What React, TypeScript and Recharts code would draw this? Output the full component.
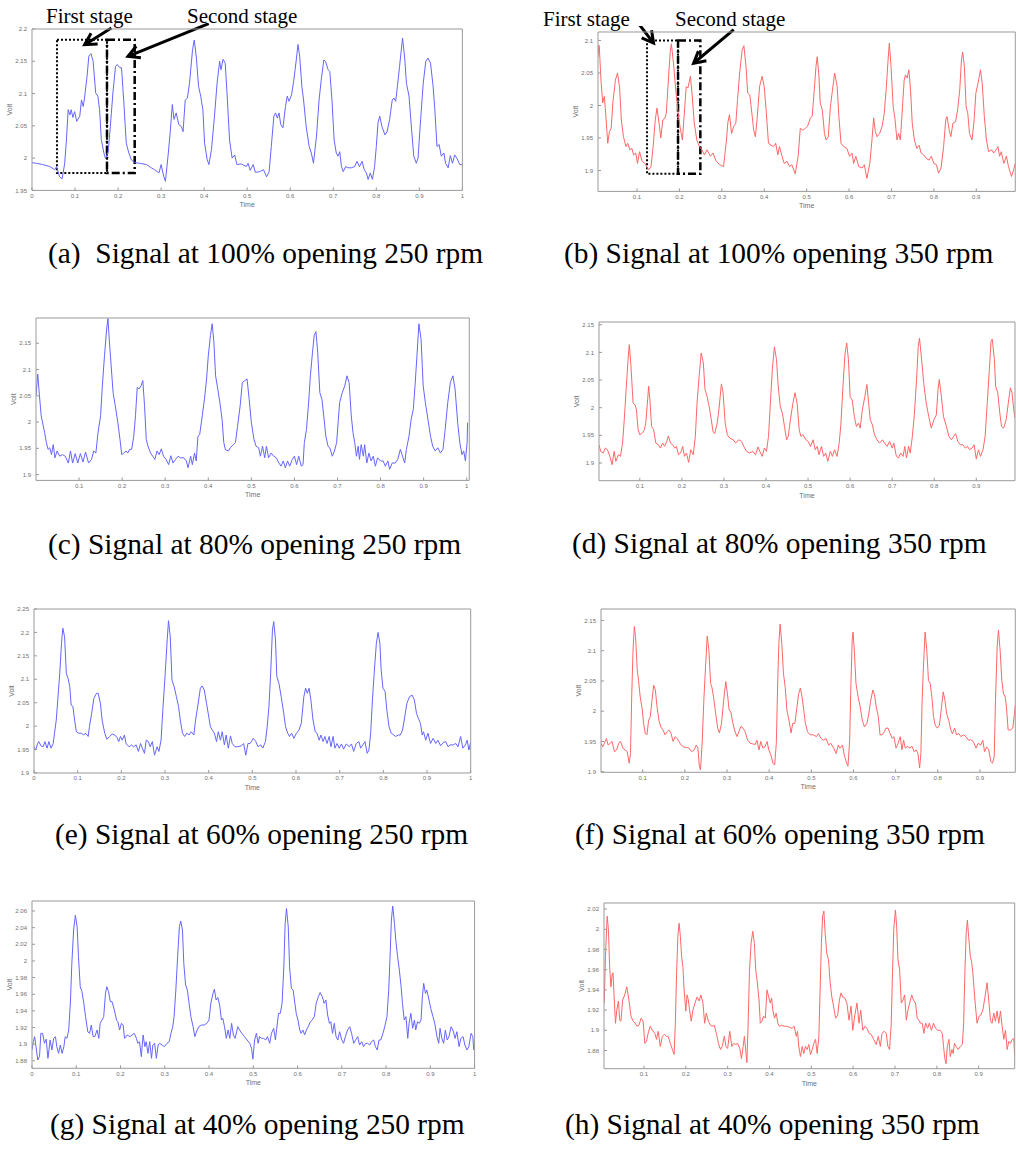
import React from 'react';
import { LineChart, Line, XAxis, YAxis, ReferenceArea, ReferenceLine } from 'recharts';

type Pt = [number, number];

// (a) 100% opening, 250 rpm
const sig100_250: Pt[] = [[0,1.993],[0.01,1.992],[0.025,1.99],[0.041,1.987],[0.053,1.982],[0.057,1.987],[0.064,1.971],[0.07,1.968],[0.076,1.992],[0.08,2.028],[0.084,2.075],[0.088,2.067],[0.091,2.075],[0.095,2.063],[0.099,2.072],[0.104,2.057],[0.111,2.065],[0.115,2.09],[0.119,2.08],[0.122,2.093],[0.128,2.127],[0.132,2.158],[0.137,2.162],[0.142,2.15],[0.148,2.101],[0.153,2.096],[0.157,2.075],[0.161,2.029],[0.167,2.008],[0.171,1.999],[0.177,2.01],[0.182,2.049],[0.188,2.101],[0.194,2.142],[0.198,2.145],[0.204,2.14],[0.208,2.14],[0.213,2.09],[0.219,2.023],[0.225,2.008],[0.231,1.997],[0.239,1.993],[0.25,1.992],[0.266,1.99],[0.277,1.985],[0.285,1.982],[0.295,1.977],[0.3,1.99],[0.306,1.972],[0.31,1.964],[0.316,2.003],[0.321,2.039],[0.326,2.083],[0.33,2.06],[0.335,2.07],[0.341,2.052],[0.347,2.049],[0.351,2.041],[0.356,2.09],[0.361,2.093],[0.366,2.116],[0.373,2.168],[0.377,2.183],[0.382,2.155],[0.387,2.111],[0.392,2.096],[0.397,2.075],[0.401,2.023],[0.407,1.998],[0.411,1.99],[0.417,2.013],[0.424,2.065],[0.43,2.116],[0.436,2.15],[0.439,2.137],[0.444,2.153],[0.449,2.147],[0.454,2.09],[0.459,2.028],[0.465,2.0],[0.471,2.005],[0.476,1.99],[0.486,1.991],[0.498,1.987],[0.502,1.992],[0.507,1.981],[0.514,1.99],[0.519,1.978],[0.529,1.979],[0.538,1.982],[0.545,1.971],[0.551,1.979],[0.556,2.018],[0.562,2.065],[0.566,2.07],[0.57,2.062],[0.574,2.07],[0.578,2.052],[0.583,2.047],[0.589,2.08],[0.593,2.096],[0.597,2.088],[0.603,2.098],[0.608,2.119],[0.614,2.152],[0.618,2.176],[0.622,2.158],[0.627,2.111],[0.631,2.09],[0.637,2.049],[0.644,2.018],[0.649,2.008],[0.654,1.992],[0.661,2.034],[0.667,2.09],[0.672,2.121],[0.678,2.152],[0.682,2.15],[0.688,2.137],[0.692,2.134],[0.697,2.09],[0.702,2.028],[0.707,2.008],[0.711,2.003],[0.715,2.01],[0.719,1.987],[0.723,1.979],[0.729,1.987],[0.734,1.985],[0.742,1.985],[0.75,1.987],[0.755,1.995],[0.761,1.987],[0.767,1.995],[0.772,1.982],[0.777,1.977],[0.781,1.967],[0.786,1.977],[0.791,1.967],[0.796,1.987],[0.8,2.018],[0.804,2.055],[0.808,2.065],[0.813,2.049],[0.82,2.036],[0.825,2.041],[0.831,2.06],[0.837,2.09],[0.841,2.093],[0.845,2.088],[0.849,2.111],[0.854,2.142],[0.861,2.186],[0.866,2.155],[0.87,2.116],[0.876,2.096],[0.882,2.044],[0.887,2.003],[0.893,1.992],[0.897,2.0],[0.903,2.06],[0.909,2.116],[0.915,2.15],[0.92,2.155],[0.926,2.147],[0.932,2.111],[0.936,2.075],[0.941,2.018],[0.946,2.021],[0.951,2.003],[0.957,2.008],[0.961,1.992],[0.967,1.985],[0.972,2.004],[0.977,1.992],[0.982,2.005],[0.987,2.0],[0.994,1.99],[1,1.99]];

// (b) 100% opening, 350 rpm
const sig100_350: Pt[] = [[0.008,2.075],[0.01,2.093],[0.011,2.091],[0.015,2.039],[0.019,2.004],[0.023,2.014],[0.026,1.988],[0.031,1.942],[0.035,1.96],[0.039,1.965],[0.043,2.004],[0.049,2.039],[0.054,2.05],[0.059,2.027],[0.063,1.978],[0.068,1.952],[0.074,1.937],[0.078,1.942],[0.083,1.932],[0.088,1.934],[0.092,1.924],[0.097,1.927],[0.101,1.911],[0.106,1.929],[0.112,1.914],[0.119,1.911],[0.127,1.901],[0.133,1.906],[0.138,1.937],[0.143,1.978],[0.147,1.996],[0.152,1.973],[0.156,1.95],[0.161,1.978],[0.166,1.981],[0.169,1.988],[0.173,2.029],[0.178,2.081],[0.181,2.095],[0.186,2.065],[0.192,2.019],[0.197,1.988],[0.202,1.965],[0.207,1.947],[0.211,1.983],[0.216,2.029],[0.22,2.027],[0.226,2.045],[0.23,2.016],[0.235,1.973],[0.241,1.947],[0.247,1.937],[0.253,1.932],[0.259,1.924],[0.265,1.932],[0.273,1.922],[0.279,1.927],[0.287,1.914],[0.295,1.909],[0.304,1.906],[0.311,1.947],[0.314,1.973],[0.318,1.986],[0.323,1.957],[0.328,1.968],[0.333,1.973],[0.337,2.009],[0.342,2.05],[0.348,2.086],[0.352,2.092],[0.357,2.06],[0.361,2.019],[0.366,2.016],[0.37,1.993],[0.375,1.963],[0.379,1.952],[0.383,1.978],[0.389,2.029],[0.395,2.045],[0.4,2.029],[0.405,1.988],[0.41,1.942],[0.416,1.939],[0.422,1.937],[0.427,1.942],[0.432,1.924],[0.436,1.937],[0.442,1.922],[0.447,1.911],[0.454,1.914],[0.46,1.906],[0.465,1.909],[0.473,1.895],[0.48,1.922],[0.485,1.965],[0.491,1.962],[0.497,1.965],[0.502,1.968],[0.509,1.981],[0.513,1.983],[0.518,2.024],[0.522,2.06],[0.525,2.075],[0.529,2.045],[0.532,2.004],[0.537,1.993],[0.542,1.957],[0.546,1.947],[0.551,1.952],[0.556,1.998],[0.561,2.024],[0.566,2.05],[0.572,2.029],[0.576,1.983],[0.581,1.942],[0.587,1.937],[0.595,1.934],[0.601,1.922],[0.607,1.927],[0.611,1.911],[0.616,1.922],[0.623,1.906],[0.631,1.904],[0.636,1.909],[0.642,1.888],[0.649,1.911],[0.654,1.947],[0.658,1.981],[0.662,1.96],[0.666,1.952],[0.672,1.957],[0.678,1.968],[0.683,1.988],[0.688,2.029],[0.692,2.07],[0.695,2.096],[0.699,2.06],[0.704,1.998],[0.708,1.981],[0.713,1.947],[0.717,1.957],[0.721,1.947],[0.726,1.998],[0.73,2.039],[0.733,2.047],[0.737,2.042],[0.741,2.055],[0.745,2.024],[0.749,1.973],[0.754,1.947],[0.76,1.934],[0.765,1.939],[0.77,1.927],[0.776,1.924],[0.782,1.919],[0.789,1.916],[0.794,1.922],[0.8,1.911],[0.806,1.909],[0.811,1.896],[0.817,1.904],[0.823,1.937],[0.828,1.978],[0.831,1.983],[0.836,1.963],[0.84,1.952],[0.845,1.973],[0.851,1.975],[0.856,1.993],[0.861,2.024],[0.865,2.07],[0.868,2.082],[0.872,2.06],[0.876,1.998],[0.88,1.988],[0.884,1.957],[0.89,1.947],[0.895,1.978],[0.899,2.019],[0.904,2.034],[0.91,2.055],[0.914,2.034],[0.919,1.983],[0.924,1.947],[0.929,1.929],[0.936,1.932],[0.941,1.927],[0.947,1.932],[0.951,1.937],[0.955,1.922],[0.959,1.929],[0.965,1.911],[0.971,1.922],[0.976,1.906],[0.983,1.891],[0.988,1.901],[0.992,1.911]];

// (c) 80% opening, 250 rpm
const sig80_250: Pt[] = [[0,2.05],[0.004,2.091],[0.008,2.05],[0.012,2.012],[0.016,1.996],[0.02,1.98],[0.024,1.961],[0.028,1.948],[0.032,1.951],[0.036,1.938],[0.04,1.957],[0.044,1.932],[0.049,1.945],[0.055,1.935],[0.061,1.938],[0.068,1.935],[0.075,1.922],[0.08,1.945],[0.085,1.922],[0.091,1.94],[0.097,1.922],[0.103,1.94],[0.109,1.924],[0.115,1.943],[0.122,1.922],[0.129,1.929],[0.134,1.945],[0.139,1.941],[0.144,1.98],[0.15,2.012],[0.154,2.069],[0.159,2.126],[0.164,2.177],[0.167,2.197],[0.17,2.158],[0.175,2.101],[0.179,2.056],[0.184,2.031],[0.19,1.999],[0.195,1.967],[0.199,1.938],[0.204,1.941],[0.209,1.945],[0.213,1.941],[0.217,1.948],[0.222,1.948],[0.227,1.973],[0.231,2.012],[0.235,2.066],[0.239,2.063],[0.244,2.069],[0.248,2.079],[0.252,2.031],[0.256,1.967],[0.26,1.954],[0.266,1.941],[0.271,1.935],[0.276,1.929],[0.281,1.945],[0.286,1.938],[0.291,1.949],[0.296,1.935],[0.302,1.929],[0.308,1.919],[0.313,1.936],[0.318,1.922],[0.324,1.929],[0.33,1.935],[0.335,1.932],[0.343,1.932],[0.349,1.926],[0.353,1.913],[0.359,1.935],[0.363,1.919],[0.368,1.941],[0.372,1.926],[0.376,1.973],[0.38,1.976],[0.386,2.012],[0.391,2.043],[0.396,2.082],[0.4,2.126],[0.405,2.165],[0.409,2.187],[0.413,2.152],[0.417,2.088],[0.422,2.063],[0.427,2.037],[0.432,2.005],[0.436,1.961],[0.44,1.947],[0.447,1.945],[0.451,1.951],[0.458,1.957],[0.463,1.961],[0.468,1.992],[0.474,2.031],[0.479,2.075],[0.485,2.079],[0.49,2.082],[0.495,2.043],[0.5,1.999],[0.506,1.967],[0.511,1.954],[0.517,1.951],[0.521,1.935],[0.526,1.954],[0.531,1.932],[0.535,1.954],[0.54,1.932],[0.546,1.941],[0.552,1.935],[0.558,1.932],[0.564,1.922],[0.569,1.916],[0.574,1.926],[0.579,1.913],[0.584,1.926],[0.589,1.916],[0.595,1.929],[0.6,1.935],[0.605,1.919],[0.61,1.935],[0.616,1.916],[0.62,1.919],[0.623,1.961],[0.628,1.986],[0.633,2.037],[0.637,2.088],[0.642,2.133],[0.646,2.165],[0.65,2.172],[0.654,2.133],[0.659,2.056],[0.664,2.043],[0.668,2.012],[0.673,1.973],[0.678,1.954],[0.682,1.951],[0.688,1.935],[0.693,1.945],[0.698,1.961],[0.702,2.005],[0.705,2.037],[0.711,2.056],[0.717,2.069],[0.722,2.088],[0.727,2.075],[0.732,2.012],[0.736,1.98],[0.74,1.961],[0.744,1.935],[0.748,1.954],[0.751,1.929],[0.755,1.957],[0.76,1.935],[0.763,1.957],[0.768,1.922],[0.773,1.941],[0.778,1.926],[0.783,1.935],[0.788,1.916],[0.793,1.932],[0.8,1.926],[0.806,1.926],[0.811,1.916],[0.817,1.926],[0.821,1.91],[0.827,1.922],[0.834,1.922],[0.84,1.929],[0.846,1.948],[0.851,1.935],[0.856,1.922],[0.86,1.948],[0.866,1.973],[0.871,2.005],[0.876,2.024],[0.88,2.069],[0.885,2.133],[0.889,2.187],[0.894,2.158],[0.899,2.069],[0.904,2.037],[0.91,2.005],[0.916,1.973],[0.921,1.954],[0.927,1.945],[0.933,1.951],[0.939,1.941],[0.945,1.948],[0.95,1.986],[0.956,2.037],[0.962,2.075],[0.968,2.088],[0.973,2.063],[0.979,1.999],[0.984,1.961],[0.989,1.938],[0.993,1.945],[0.997,1.926],[1.001,1.961],[1.002,1.999]];

// (d) 80% opening, 350 rpm
const sig80_350: Pt[] = [[0.003,1.933],[0.007,1.921],[0.013,1.918],[0.018,1.927],[0.023,1.924],[0.029,1.912],[0.034,1.897],[0.039,1.921],[0.043,1.903],[0.049,1.915],[0.054,1.912],[0.059,1.936],[0.063,1.978],[0.068,2.039],[0.072,2.087],[0.075,2.114],[0.079,2.075],[0.084,2.008],[0.089,2.005],[0.092,1.996],[0.096,1.96],[0.1,1.951],[0.106,1.954],[0.111,1.96],[0.114,1.972],[0.118,2.008],[0.121,2.039],[0.124,2.014],[0.128,1.966],[0.133,1.96],[0.138,1.936],[0.144,1.933],[0.149,1.927],[0.154,1.936],[0.159,1.93],[0.164,1.939],[0.168,1.949],[0.173,1.936],[0.178,1.933],[0.183,1.927],[0.187,1.93],[0.192,1.915],[0.197,1.918],[0.202,1.93],[0.206,1.912],[0.211,1.918],[0.216,1.901],[0.221,1.924],[0.227,1.915],[0.232,1.948],[0.236,2.008],[0.241,2.057],[0.246,2.099],[0.251,2.081],[0.255,2.033],[0.26,2.02],[0.265,2.002],[0.27,1.978],[0.274,1.957],[0.278,1.953],[0.284,1.972],[0.288,1.996],[0.294,2.043],[0.298,2.027],[0.303,1.972],[0.308,1.951],[0.314,1.945],[0.322,1.942],[0.328,1.936],[0.335,1.942],[0.342,1.939],[0.347,1.93],[0.354,1.921],[0.361,1.918],[0.369,1.921],[0.375,1.915],[0.381,1.929],[0.387,1.918],[0.391,1.912],[0.396,1.927],[0.401,1.921],[0.406,1.948],[0.41,2.002],[0.415,2.069],[0.42,2.11],[0.425,2.087],[0.429,2.039],[0.434,2.002],[0.439,1.99],[0.444,1.966],[0.449,1.942],[0.453,1.948],[0.458,1.978],[0.464,2.008],[0.469,2.027],[0.474,2.008],[0.479,1.96],[0.483,1.948],[0.488,1.951],[0.495,1.942],[0.5,1.939],[0.506,1.93],[0.512,1.942],[0.517,1.924],[0.522,1.93],[0.526,1.915],[0.532,1.93],[0.537,1.912],[0.542,1.918],[0.547,1.903],[0.553,1.921],[0.558,1.912],[0.563,1.924],[0.569,1.912],[0.574,1.936],[0.578,1.969],[0.583,2.039],[0.588,2.099],[0.592,2.117],[0.596,2.087],[0.6,2.02],[0.605,2.014],[0.61,1.984],[0.615,1.966],[0.62,1.972],[0.624,1.963],[0.629,1.996],[0.635,2.02],[0.64,2.042],[0.644,2.008],[0.648,1.978],[0.653,1.969],[0.658,1.951],[0.664,1.942],[0.67,1.936],[0.677,1.942],[0.682,1.936],[0.688,1.93],[0.694,1.939],[0.7,1.927],[0.704,1.936],[0.71,1.912],[0.715,1.909],[0.72,1.918],[0.726,1.912],[0.73,1.93],[0.734,1.909],[0.739,1.93],[0.743,1.918],[0.748,1.948],[0.753,1.99],[0.758,2.051],[0.762,2.111],[0.765,2.126],[0.77,2.087],[0.775,2.045],[0.781,2.008],[0.787,1.984],[0.793,1.963],[0.799,1.978],[0.805,1.987],[0.809,2.033],[0.812,2.051],[0.817,2.02],[0.822,1.984],[0.829,1.966],[0.835,1.948],[0.841,1.942],[0.846,1.948],[0.851,1.953],[0.856,1.939],[0.862,1.933],[0.868,1.933],[0.874,1.927],[0.879,1.93],[0.884,1.924],[0.89,1.927],[0.895,1.933],[0.9,1.907],[0.905,1.924],[0.91,1.912],[0.916,1.924],[0.921,1.948],[0.926,2.008],[0.931,2.069],[0.935,2.12],[0.938,2.124],[0.943,2.087],[0.946,2.039],[0.951,2.027],[0.956,1.99],[0.96,1.966],[0.965,1.963],[0.971,1.978],[0.976,2.008],[0.981,2.036],[0.985,2.027],[0.989,1.996],[0.992,1.981]];

// (e) 60% opening, 250 rpm
const sig60_250: Pt[] = [[0,1.956],[0.004,1.949],[0.008,1.962],[0.011,1.967],[0.016,1.958],[0.021,1.956],[0.025,1.967],[0.03,1.953],[0.034,1.967],[0.039,1.953],[0.044,1.963],[0.047,1.985],[0.051,2.013],[0.055,2.063],[0.059,2.113],[0.063,2.177],[0.066,2.209],[0.07,2.191],[0.074,2.113],[0.078,2.102],[0.082,2.084],[0.085,2.045],[0.089,2.042],[0.093,2.013],[0.097,1.988],[0.102,1.985],[0.108,1.985],[0.114,1.981],[0.118,1.985],[0.124,1.978],[0.127,1.999],[0.132,2.027],[0.137,2.059],[0.143,2.07],[0.147,2.07],[0.152,2.049],[0.156,2.013],[0.162,1.985],[0.167,1.972],[0.173,1.978],[0.179,1.983],[0.185,1.981],[0.19,1.976],[0.194,1.967],[0.198,1.978],[0.202,1.97],[0.207,1.981],[0.211,1.962],[0.218,1.956],[0.223,1.96],[0.228,1.956],[0.234,1.96],[0.239,1.946],[0.244,1.963],[0.248,1.953],[0.253,1.942],[0.257,1.97],[0.262,1.967],[0.266,1.956],[0.271,1.967],[0.276,1.938],[0.282,1.956],[0.286,1.946],[0.291,1.97],[0.295,2.034],[0.3,2.106],[0.305,2.184],[0.308,2.225],[0.312,2.191],[0.316,2.098],[0.321,2.084],[0.326,2.063],[0.331,2.042],[0.335,2.013],[0.34,1.985],[0.345,1.978],[0.35,1.985],[0.355,1.981],[0.36,1.988],[0.366,1.981],[0.37,2.013],[0.376,2.049],[0.381,2.081],[0.385,2.086],[0.39,2.077],[0.395,2.049],[0.399,2.027],[0.404,1.999],[0.408,1.992],[0.413,1.985],[0.418,1.967],[0.422,1.988],[0.427,1.97],[0.431,1.988],[0.436,1.96],[0.44,1.981],[0.445,1.953],[0.45,1.979],[0.454,1.963],[0.46,1.956],[0.467,1.956],[0.475,1.958],[0.48,1.963],[0.485,1.938],[0.49,1.963],[0.495,1.963],[0.502,1.974],[0.508,1.967],[0.513,1.956],[0.519,1.96],[0.524,1.953],[0.53,1.967],[0.534,1.999],[0.538,2.042],[0.542,2.113],[0.546,2.205],[0.549,2.223],[0.553,2.184],[0.556,2.106],[0.561,2.091],[0.566,2.063],[0.572,2.027],[0.576,1.999],[0.581,1.985],[0.585,1.978],[0.59,1.985],[0.595,1.974],[0.601,1.985],[0.607,1.992],[0.612,2.006],[0.618,2.063],[0.622,2.081],[0.626,2.07],[0.63,2.081],[0.634,2.056],[0.639,2.013],[0.644,1.988],[0.648,1.985],[0.653,1.97],[0.657,1.981],[0.662,1.967],[0.666,1.978],[0.671,1.963],[0.676,1.978],[0.68,1.956],[0.685,1.978],[0.689,1.953],[0.694,1.963],[0.699,1.953],[0.704,1.962],[0.709,1.951],[0.715,1.962],[0.722,1.956],[0.727,1.962],[0.732,1.946],[0.738,1.963],[0.744,1.967],[0.748,1.953],[0.753,1.96],[0.758,1.967],[0.763,1.942],[0.767,1.949],[0.771,1.985],[0.775,2.056],[0.779,2.113],[0.784,2.177],[0.788,2.2],[0.792,2.177],[0.795,2.12],[0.799,2.081],[0.804,2.074],[0.808,2.034],[0.813,1.999],[0.818,1.985],[0.824,1.981],[0.828,1.978],[0.834,1.981],[0.839,1.981],[0.844,1.992],[0.849,2.02],[0.854,2.049],[0.86,2.063],[0.866,2.066],[0.871,2.056],[0.876,2.027],[0.88,2.017],[0.885,2.006],[0.889,1.981],[0.892,1.988],[0.897,1.97],[0.902,1.985],[0.908,1.963],[0.914,1.974],[0.92,1.963],[0.925,1.97],[0.931,1.958],[0.937,1.965],[0.943,1.967],[0.948,1.956],[0.953,1.96],[0.96,1.96],[0.966,1.963],[0.971,1.956],[0.977,1.978],[0.982,1.953],[0.988,1.96],[0.992,1.97],[0.996,1.949],[1,1.967]];

// (f) 60% opening, 350 rpm
const sig60_350: Pt[] = [[0.001,1.947],[0.005,1.941],[0.009,1.947],[0.014,1.955],[0.018,1.944],[0.023,1.947],[0.027,1.95],[0.033,1.933],[0.038,1.936],[0.043,1.947],[0.047,1.95],[0.053,1.939],[0.058,1.936],[0.063,1.933],[0.068,1.914],[0.071,1.93],[0.074,2.029],[0.077,2.101],[0.08,2.14],[0.083,2.123],[0.087,2.068],[0.09,2.051],[0.094,2.024],[0.099,2.002],[0.102,1.98],[0.106,1.963],[0.11,1.961],[0.114,1.985],[0.118,1.991],[0.122,2.018],[0.126,2.043],[0.13,2.035],[0.134,2.007],[0.139,1.983],[0.143,1.974],[0.148,1.969],[0.153,1.961],[0.158,1.966],[0.162,1.969],[0.167,1.964],[0.172,1.95],[0.177,1.958],[0.181,1.955],[0.186,1.95],[0.191,1.944],[0.197,1.941],[0.204,1.94],[0.21,1.939],[0.216,1.933],[0.222,1.936],[0.227,1.944],[0.231,1.939],[0.234,1.911],[0.237,1.903],[0.241,1.947],[0.245,2.018],[0.249,2.073],[0.253,2.124],[0.257,2.101],[0.261,2.046],[0.264,2.04],[0.268,2.024],[0.273,1.996],[0.278,1.972],[0.282,1.964],[0.287,1.98],[0.292,2.018],[0.297,2.049],[0.301,2.029],[0.305,2.002],[0.309,1.999],[0.314,1.98],[0.319,1.966],[0.324,1.958],[0.328,1.966],[0.333,1.975],[0.338,1.972],[0.343,1.966],[0.349,1.952],[0.355,1.947],[0.361,1.946],[0.367,1.945],[0.371,1.952],[0.376,1.936],[0.38,1.95],[0.385,1.939],[0.39,1.941],[0.395,1.95],[0.399,1.936],[0.404,1.928],[0.409,1.914],[0.413,1.911],[0.417,1.947],[0.42,2.04],[0.423,2.112],[0.426,2.144],[0.43,2.112],[0.434,2.062],[0.438,2.04],[0.442,2.002],[0.447,1.985],[0.452,1.964],[0.456,1.98],[0.461,1.98],[0.466,2.007],[0.47,2.029],[0.474,2.038],[0.478,2.024],[0.482,2.002],[0.486,1.98],[0.491,1.966],[0.497,1.961],[0.505,1.961],[0.512,1.958],[0.517,1.963],[0.523,1.955],[0.529,1.952],[0.535,1.955],[0.541,1.944],[0.546,1.947],[0.553,1.939],[0.559,1.93],[0.564,1.944],[0.568,1.939],[0.574,1.944],[0.579,1.925],[0.584,1.914],[0.587,1.909],[0.591,1.952],[0.594,2.046],[0.597,2.118],[0.599,2.131],[0.602,2.101],[0.606,2.046],[0.611,2.024],[0.616,2.007],[0.621,1.985],[0.626,1.974],[0.632,1.98],[0.636,1.994],[0.641,2.018],[0.646,2.035],[0.65,2.027],[0.654,2.007],[0.659,1.991],[0.663,1.961],[0.668,1.961],[0.673,1.966],[0.677,1.972],[0.682,1.972],[0.687,1.963],[0.692,1.955],[0.696,1.958],[0.701,1.939],[0.706,1.947],[0.711,1.958],[0.715,1.936],[0.719,1.952],[0.723,1.939],[0.728,1.942],[0.734,1.939],[0.739,1.942],[0.744,1.933],[0.749,1.936],[0.753,1.93],[0.757,1.906],[0.76,1.93],[0.763,2.018],[0.766,2.073],[0.77,2.131],[0.774,2.101],[0.778,2.051],[0.782,2.046],[0.786,2.024],[0.79,1.991],[0.794,1.977],[0.799,1.972],[0.804,1.977],[0.809,2.007],[0.813,2.032],[0.817,2.018],[0.821,1.996],[0.826,1.985],[0.831,1.969],[0.835,1.963],[0.84,1.972],[0.845,1.961],[0.85,1.963],[0.855,1.958],[0.861,1.961],[0.867,1.958],[0.873,1.952],[0.878,1.953],[0.884,1.95],[0.891,1.939],[0.896,1.947],[0.902,1.944],[0.907,1.952],[0.911,1.933],[0.916,1.941],[0.921,1.936],[0.926,1.917],[0.93,1.914],[0.934,1.925],[0.937,2.018],[0.941,2.107],[0.944,2.134],[0.948,2.101],[0.952,2.051],[0.956,2.029],[0.96,2.024],[0.963,2.007],[0.967,1.969],[0.973,1.969],[0.978,1.972],[0.982,1.996],[0.984,2.01]];

// (g) 40% opening, 250 rpm
const sig40_250: Pt[] = [[0,1.893],[0.003,1.903],[0.006,1.909],[0.009,1.897],[0.013,1.881],[0.017,1.885],[0.02,1.913],[0.024,1.913],[0.028,1.901],[0.032,1.906],[0.036,1.883],[0.041,1.905],[0.045,1.893],[0.049,1.907],[0.053,1.909],[0.056,1.897],[0.06,1.889],[0.064,1.899],[0.068,1.889],[0.072,1.897],[0.075,1.909],[0.079,1.907],[0.083,1.917],[0.087,1.953],[0.09,1.997],[0.094,2.037],[0.098,2.055],[0.102,2.041],[0.105,2.005],[0.109,1.969],[0.113,1.963],[0.117,1.949],[0.121,1.933],[0.126,1.915],[0.13,1.913],[0.134,1.923],[0.138,1.909],[0.142,1.909],[0.147,1.917],[0.151,1.907],[0.154,1.925],[0.158,1.929],[0.162,1.933],[0.166,1.961],[0.169,1.969],[0.173,1.963],[0.177,1.951],[0.181,1.951],[0.186,1.941],[0.191,1.929],[0.194,1.927],[0.198,1.917],[0.202,1.925],[0.206,1.923],[0.209,1.907],[0.215,1.911],[0.221,1.909],[0.226,1.911],[0.231,1.913],[0.236,1.907],[0.239,1.901],[0.243,1.903],[0.247,1.885],[0.251,1.911],[0.255,1.897],[0.258,1.903],[0.262,1.889],[0.266,1.903],[0.27,1.883],[0.273,1.899],[0.277,1.901],[0.281,1.883],[0.285,1.899],[0.288,1.901],[0.294,1.899],[0.299,1.897],[0.305,1.901],[0.31,1.903],[0.314,1.913],[0.318,1.921],[0.321,1.933],[0.325,1.965],[0.329,2.005],[0.333,2.041],[0.336,2.048],[0.34,2.037],[0.343,1.997],[0.347,1.971],[0.351,1.965],[0.355,1.949],[0.359,1.933],[0.364,1.921],[0.368,1.909],[0.373,1.917],[0.377,1.921],[0.383,1.923],[0.389,1.923],[0.395,1.925],[0.4,1.929],[0.404,1.949],[0.409,1.961],[0.412,1.966],[0.416,1.953],[0.42,1.956],[0.424,1.947],[0.428,1.929],[0.431,1.931],[0.435,1.921],[0.439,1.907],[0.443,1.917],[0.447,1.907],[0.451,1.925],[0.455,1.911],[0.459,1.907],[0.465,1.921],[0.469,1.917],[0.474,1.913],[0.48,1.909],[0.486,1.905],[0.492,1.901],[0.496,1.895],[0.499,1.882],[0.503,1.905],[0.507,1.913],[0.511,1.901],[0.514,1.909],[0.519,1.907],[0.523,1.907],[0.528,1.905],[0.532,1.909],[0.537,1.901],[0.541,1.913],[0.546,1.919],[0.55,1.905],[0.553,1.919],[0.557,1.937],[0.561,1.937],[0.565,1.949],[0.569,1.993],[0.572,2.045],[0.575,2.063],[0.579,2.041],[0.582,1.993],[0.586,1.967],[0.59,1.965],[0.593,1.953],[0.597,1.937],[0.601,1.929],[0.605,1.917],[0.608,1.913],[0.612,1.917],[0.616,1.911],[0.62,1.917],[0.624,1.921],[0.629,1.927],[0.633,1.929],[0.638,1.933],[0.642,1.949],[0.647,1.957],[0.651,1.962],[0.656,1.957],[0.66,1.949],[0.664,1.953],[0.668,1.935],[0.672,1.925],[0.675,1.927],[0.679,1.913],[0.683,1.925],[0.687,1.909],[0.691,1.905],[0.695,1.915],[0.7,1.905],[0.704,1.901],[0.708,1.909],[0.713,1.917],[0.718,1.921],[0.722,1.913],[0.727,1.901],[0.731,1.905],[0.736,1.909],[0.74,1.899],[0.745,1.903],[0.749,1.897],[0.754,1.901],[0.758,1.901],[0.763,1.899],[0.767,1.903],[0.772,1.905],[0.776,1.897],[0.78,1.893],[0.784,1.905],[0.788,1.905],[0.793,1.913],[0.797,1.921],[0.802,1.933],[0.806,1.965],[0.809,2.005],[0.812,2.049],[0.815,2.066],[0.819,2.045],[0.822,2.025],[0.826,2.005],[0.83,1.989],[0.834,1.969],[0.837,1.949],[0.841,1.929],[0.845,1.933],[0.849,1.907],[0.852,1.925],[0.856,1.937],[0.86,1.919],[0.864,1.929],[0.867,1.917],[0.871,1.927],[0.875,1.925],[0.879,1.929],[0.882,1.957],[0.885,1.973],[0.889,1.961],[0.892,1.965],[0.897,1.953],[0.901,1.943],[0.906,1.933],[0.91,1.925],[0.915,1.909],[0.919,1.901],[0.922,1.919],[0.926,1.907],[0.93,1.901],[0.934,1.917],[0.938,1.905],[0.942,1.909],[0.947,1.921],[0.951,1.917],[0.956,1.907],[0.96,1.915],[0.965,1.897],[0.969,1.907],[0.974,1.909],[0.978,1.899],[0.983,1.893],[0.987,1.897],[0.992,1.913],[0.996,1.909],[0.998,1.893]];

// (h) 40% opening, 350 rpm
const sig40_350: Pt[] = [[0.005,1.927],[0.008,1.973],[0.012,2.013],[0.015,2.0],[0.018,1.963],[0.021,1.943],[0.024,1.955],[0.026,1.957],[0.029,1.93],[0.032,1.907],[0.035,1.92],[0.039,1.929],[0.042,1.91],[0.045,1.909],[0.049,1.93],[0.054,1.935],[0.059,1.943],[0.064,1.93],[0.069,1.914],[0.074,1.909],[0.079,1.907],[0.083,1.904],[0.088,1.905],[0.093,1.912],[0.098,1.909],[0.102,1.887],[0.106,1.889],[0.11,1.897],[0.115,1.904],[0.12,1.9],[0.126,1.897],[0.13,1.891],[0.134,1.899],[0.139,1.884],[0.144,1.894],[0.149,1.896],[0.153,1.894],[0.158,1.894],[0.163,1.887],[0.168,1.881],[0.172,1.876],[0.175,1.907],[0.178,1.957],[0.181,1.993],[0.184,2.006],[0.187,1.993],[0.19,1.973],[0.193,1.963],[0.196,1.94],[0.2,1.919],[0.203,1.935],[0.206,1.93],[0.209,1.92],[0.213,1.909],[0.217,1.92],[0.222,1.927],[0.227,1.933],[0.232,1.929],[0.236,1.935],[0.241,1.927],[0.245,1.907],[0.249,1.917],[0.254,1.909],[0.259,1.905],[0.263,1.904],[0.268,1.905],[0.273,1.897],[0.278,1.887],[0.283,1.881],[0.287,1.884],[0.292,1.894],[0.296,1.884],[0.3,1.882],[0.305,1.899],[0.31,1.884],[0.314,1.887],[0.319,1.886],[0.324,1.887],[0.329,1.882],[0.333,1.872],[0.337,1.884],[0.34,1.894],[0.343,1.881],[0.346,1.868],[0.349,1.907],[0.352,1.957],[0.356,1.986],[0.36,1.998],[0.364,1.986],[0.367,1.96],[0.371,1.947],[0.375,1.93],[0.378,1.907],[0.382,1.909],[0.386,1.914],[0.39,1.912],[0.394,1.94],[0.398,1.933],[0.402,1.927],[0.405,1.932],[0.408,1.92],[0.412,1.912],[0.416,1.917],[0.42,1.907],[0.424,1.904],[0.429,1.905],[0.435,1.904],[0.441,1.904],[0.448,1.903],[0.454,1.902],[0.459,1.904],[0.464,1.894],[0.467,1.899],[0.47,1.884],[0.474,1.874],[0.478,1.884],[0.482,1.877],[0.486,1.884],[0.49,1.881],[0.494,1.886],[0.498,1.876],[0.502,1.881],[0.506,1.887],[0.51,1.891],[0.514,1.877],[0.518,1.894],[0.521,1.94],[0.524,1.986],[0.527,2.013],[0.53,2.018],[0.533,1.996],[0.537,1.976],[0.541,1.97],[0.545,1.947],[0.549,1.933],[0.553,1.924],[0.558,1.912],[0.563,1.915],[0.567,1.93],[0.571,1.937],[0.575,1.933],[0.58,1.932],[0.585,1.927],[0.59,1.91],[0.595,1.924],[0.599,1.9],[0.604,1.915],[0.609,1.927],[0.614,1.907],[0.618,1.92],[0.623,1.9],[0.628,1.904],[0.633,1.902],[0.638,1.897],[0.643,1.896],[0.649,1.891],[0.655,1.886],[0.66,1.894],[0.665,1.884],[0.669,1.897],[0.674,1.899],[0.679,1.897],[0.683,1.884],[0.687,1.881],[0.691,1.907],[0.694,1.957],[0.697,2.0],[0.701,2.019],[0.704,2.003],[0.707,1.97],[0.711,1.96],[0.715,1.927],[0.719,1.93],[0.723,1.935],[0.727,1.91],[0.731,1.92],[0.735,1.927],[0.74,1.935],[0.744,1.93],[0.749,1.927],[0.753,1.912],[0.757,1.91],[0.761,1.907],[0.765,1.907],[0.769,1.897],[0.773,1.907],[0.778,1.902],[0.782,1.907],[0.787,1.9],[0.792,1.907],[0.797,1.902],[0.802,1.9],[0.808,1.9],[0.813,1.897],[0.816,1.884],[0.819,1.872],[0.822,1.867],[0.825,1.884],[0.829,1.891],[0.832,1.874],[0.836,1.881],[0.839,1.877],[0.842,1.887],[0.846,1.884],[0.851,1.881],[0.856,1.884],[0.861,1.886],[0.864,1.907],[0.867,1.957],[0.87,1.996],[0.873,2.009],[0.876,1.993],[0.88,1.973],[0.883,1.968],[0.886,1.957],[0.891,1.93],[0.896,1.907],[0.901,1.914],[0.905,1.915],[0.91,1.92],[0.915,1.933],[0.92,1.947],[0.924,1.93],[0.928,1.91],[0.932,1.907],[0.936,1.917],[0.94,1.909],[0.944,1.919],[0.948,1.907],[0.952,1.919],[0.956,1.904],[0.96,1.891],[0.964,1.9],[0.968,1.881],[0.972,1.889],[0.976,1.887],[0.98,1.891],[0.984,1.892],[0.986,1.874]];

// tick values
const xTicksFull = [0, 0.1, 0.2, 0.3, 0.4, 0.5, 0.6, 0.7, 0.8, 0.9, 1];
const xTicksTo1 = [0.1, 0.2, 0.3, 0.4, 0.5, 0.6, 0.7, 0.8, 0.9, 1];
const xTicksInner = [0.1, 0.2, 0.3, 0.4, 0.5, 0.6, 0.7, 0.8, 0.9];
const yTicksA = [1.95, 2, 2.05, 2.1, 2.15, 2.2];
const yTicksB = [1.9, 1.95, 2, 2.05, 2.1];
const yTicksCDF = [1.9, 1.95, 2, 2.05, 2.1, 2.15];
const yTicksE = [1.9, 1.95, 2, 2.05, 2.1, 2.15, 2.2, 2.25];
const yTicksG = [1.88, 1.9, 1.92, 1.94, 1.96, 1.98, 2, 2.02, 2.04, 2.06];
const yTicksH = [1.88, 1.9, 1.92, 1.94, 1.96, 1.98, 2, 2.02];

// captions
const captions = [
  '(a)  Signal at 100% opening 250 rpm',
  '(b) Signal at 100% opening 350 rpm',
  '(c) Signal at 80% opening 250 rpm',
  '(d) Signal at 80% opening 350 rpm',
  '(e) Signal at 60% opening 250 rpm',
  '(f) Signal at 60% opening 350 rpm',
  '(g) Signal at 40% opening 250 rpm',
  '(h) Signal at 40% opening 350 rpm',
];

// stage annotation boxes, data space [x1, x2, y1, y2]
const stageA = { first: [0.058, 0.1742, 1.977, 2.1835], second: [0.1742, 0.2386, 1.977, 2.1835] };
const stageB = { first: [0.1236, 0.1967, 1.895, 2.1], second: [0.1967, 0.2493, 1.895, 2.1] };
// arrows: tail -> tip, data space
const arrowsA = [[[0.1844, 2.2016], [0.1224, 2.1757]], [[0.4105, 2.2083], [0.223, 2.1576]]];
const arrowsB = [[[0.1, 2.129], [0.139, 2.096]], [[0.328, 2.1165], [0.2335, 2.065]]];

const BLUE = '#6464ff';
const RED = '#ff6666';
const FRAME = '#9a9a9a';
const TXT = '#707070';
const SANS = 'Liberation Sans, Arial, sans-serif';
const SERIF = 'Liberation Serif, Times New Roman, serif';

const fmt = (v: number) => String(Math.round(v * 100) / 100);

const YW = 34;
const XH = 17;
const MT = 6;
const MR = 6;

type Box = { l: number; t: number; r: number; b: number };

const arrowShape = (p: any) => {
  const { x1, y1, x2, y2 } = p;
  const ang = Math.atan2(y2 - y1, x2 - x1);
  const L = 13;
  const a = 0.5;
  const h1x = x2 - L * Math.cos(ang - a);
  const h1y = y2 - L * Math.sin(ang - a);
  const h2x = x2 - L * Math.cos(ang + a);
  const h2y = y2 - L * Math.sin(ang + a);
  return (
    <g>
      <line x1={x1} y1={y1} x2={x2} y2={y2} stroke="#000" strokeWidth={3} />
      <polyline points={`${h1x},${h1y} ${x2},${y2} ${h2x},${h2y}`} fill="none" stroke="#000" strokeWidth={3} strokeLinejoin="miter" />
    </g>
  );
};

function stageMarks(st: { first: number[]; second: number[] }, arrows: number[][][]) {
  return [
    <ReferenceArea key="r1" xAxisId="b" yAxisId="l" x1={st.first[0]} x2={st.first[1]} y1={st.first[2]} y2={st.first[3]}
      fill="none" fillOpacity={0} stroke="#000" strokeWidth={2} strokeDasharray="2 2" ifOverflow="visible" />,
    <ReferenceArea key="r2" xAxisId="b" yAxisId="l" x1={st.second[0]} x2={st.second[1]} y1={st.second[2]} y2={st.second[3]}
      fill="none" fillOpacity={0} stroke="#000" strokeWidth={2.5} strokeDasharray="8 3 2 3" ifOverflow="visible" />,
    ...arrows.map((ar, i) => (
      <ReferenceLine key={'a' + i} xAxisId="b" yAxisId="l" ifOverflow="visible"
        segment={[{ x: ar[0][0], y: ar[0][1] }, { x: ar[1][0], y: ar[1][1] }]} shape={arrowShape} />
    )),
  ];
}

function Panel({ box, xDomain, yDomain, xTicks, yTicks, data, color, extra }: {
  box: Box; xDomain: [number, number]; yDomain: [number, number]; xTicks: number[]; yTicks: number[];
  data: Pt[]; color: string; extra?: React.ReactNode;
}) {
  const w = box.r - box.l;
  const h = box.b - box.t;
  const rows = data.map(([t, v]) => ({ t, v }));
  const tickStyle = { fontSize: 6, fill: TXT, fontFamily: SANS };
  return (
    <div style={{ position: 'absolute', left: box.l - YW, top: box.t - MT }}>
      <LineChart width={YW + w + MR} height={MT + h + XH} data={rows}
        margin={{ top: MT - 1, right: MR - 1, bottom: 0, left: 0 }}>
        <XAxis xAxisId="b" dataKey="t" type="number" domain={xDomain} ticks={xTicks} allowDataOverflow interval={0}
          height={XH} tickSize={-3} tickMargin={6} stroke={FRAME} tick={tickStyle} tickFormatter={fmt}
          label={{ value: 'Time', position: 'insideBottom', offset: 0, fontSize: 7, fill: TXT, fontFamily: SANS, style: { fill: TXT } }} />
        <XAxis xAxisId="t" orientation="top" dataKey="t" type="number" domain={xDomain} ticks={xTicks} allowDataOverflow
          interval={0} height={1} tickSize={-3} tick={false} stroke={FRAME} />
        <YAxis yAxisId="l" type="number" domain={yDomain} ticks={yTicks} allowDataOverflow interval={0} width={YW}
          tickSize={-3} tickMargin={8} stroke={FRAME} tick={tickStyle} tickFormatter={fmt}
          label={{ value: 'Volt', angle: -90, position: 'insideLeft', offset: YW - 22, fontSize: 7, fill: TXT, fontFamily: SANS, style: { textAnchor: 'middle', fill: TXT } }} />
        <YAxis yAxisId="r" orientation="right" type="number" domain={yDomain} ticks={yTicks} allowDataOverflow interval={0}
          width={1} tickSize={-3} tick={false} stroke={FRAME} />
        <Line xAxisId="b" yAxisId="l" type="linear" dataKey="v" stroke={color} strokeWidth={1} dot={false}
          isAnimationActive={false} />
        {extra}
      </LineChart>
    </div>
  );
}

export default function App() {
  const capPos = [
    [48, 263], [564, 263], [48, 554], [572, 553], [55, 844], [575, 844], [50, 1134], [565, 1134],
  ];
  return (
    <div style={{ position: 'absolute', left: 0, top: 0, width: 1016, height: 1149, overflow: 'hidden', background: '#fff' }}>
      <Panel box={{ l: 32.3, t: 29.3, r: 462.7, b: 190.7 }} xDomain={[0, 1]} yDomain={[1.95, 2.2]}
        xTicks={xTicksFull} yTicks={yTicksA} data={sig100_250} color={BLUE} extra={stageMarks(stageA, arrowsA)} />
      <Panel box={{ l: 597.7, t: 32.3, r: 1015, b: 191.7 }} xDomain={[0.008, 0.992]} yDomain={[1.868, 2.113]}
        xTicks={xTicksInner} yTicks={yTicksB} data={sig100_350} color={RED} extra={stageMarks(stageB, arrowsB)} />
      <Panel box={{ l: 35.7, t: 318.3, r: 469, b: 480.7 }} xDomain={[0, 1.006]} yDomain={[1.889, 2.198]}
        xTicks={xTicksTo1} yTicks={yTicksCDF} data={sig80_250} color={BLUE} />
      <Panel box={{ l: 599, t: 322.3, r: 1015, b: 481 }} xDomain={[0.003, 0.992]} yDomain={[1.868, 2.155]}
        xTicks={xTicksInner} yTicks={yTicksCDF} data={sig80_350} color={RED} />
      <Panel box={{ l: 34.3, t: 609, r: 471, b: 773 }} xDomain={[0, 1]} yDomain={[1.9, 2.25]}
        xTicks={xTicksFull} yTicks={yTicksE} data={sig60_250} color={BLUE} />
      <Panel box={{ l: 600.7, t: 609, r: 1015, b: 772.3 }} xDomain={[0.001, 0.984]} yDomain={[1.899, 2.169]}
        xTicks={xTicksInner} yTicks={yTicksCDF} data={sig60_350} color={RED} />
      <Panel box={{ l: 31.7, t: 901, r: 474.3, b: 1068.3 }} xDomain={[0, 1]} yDomain={[1.871, 2.072]}
        xTicks={xTicksFull} yTicks={yTicksG} data={sig40_250} color={BLUE} />
      <Panel box={{ l: 604.3, t: 903.3, r: 1015, b: 1069 }} xDomain={[0.0045, 0.986]} yDomain={[1.862, 2.026]}
        xTicks={xTicksInner} yTicks={yTicksH} data={sig40_350} color={RED} />
      <svg width={1016} height={1149} style={{ position: 'absolute', left: 0, top: 0, pointerEvents: 'none' }}>
        <g fontFamily={SERIF} fontSize={21} fill="#000">
          <text x={46} y={22.5}>First stage</text>
          <text x={187} y={22.5}>Second stage</text>
          <text x={543} y={26}>First stage</text>
          <text x={675} y={26}>Second stage</text>
        </g>
        <g fontFamily={SERIF} fontSize={29.4} fill="#000">
          {captions.map((c, i) => (
            <text key={i} x={capPos[i][0]} y={capPos[i][1]} style={{ whiteSpace: 'pre' }}>{c}</text>
          ))}
        </g>
      </svg>
    </div>
  );
}
